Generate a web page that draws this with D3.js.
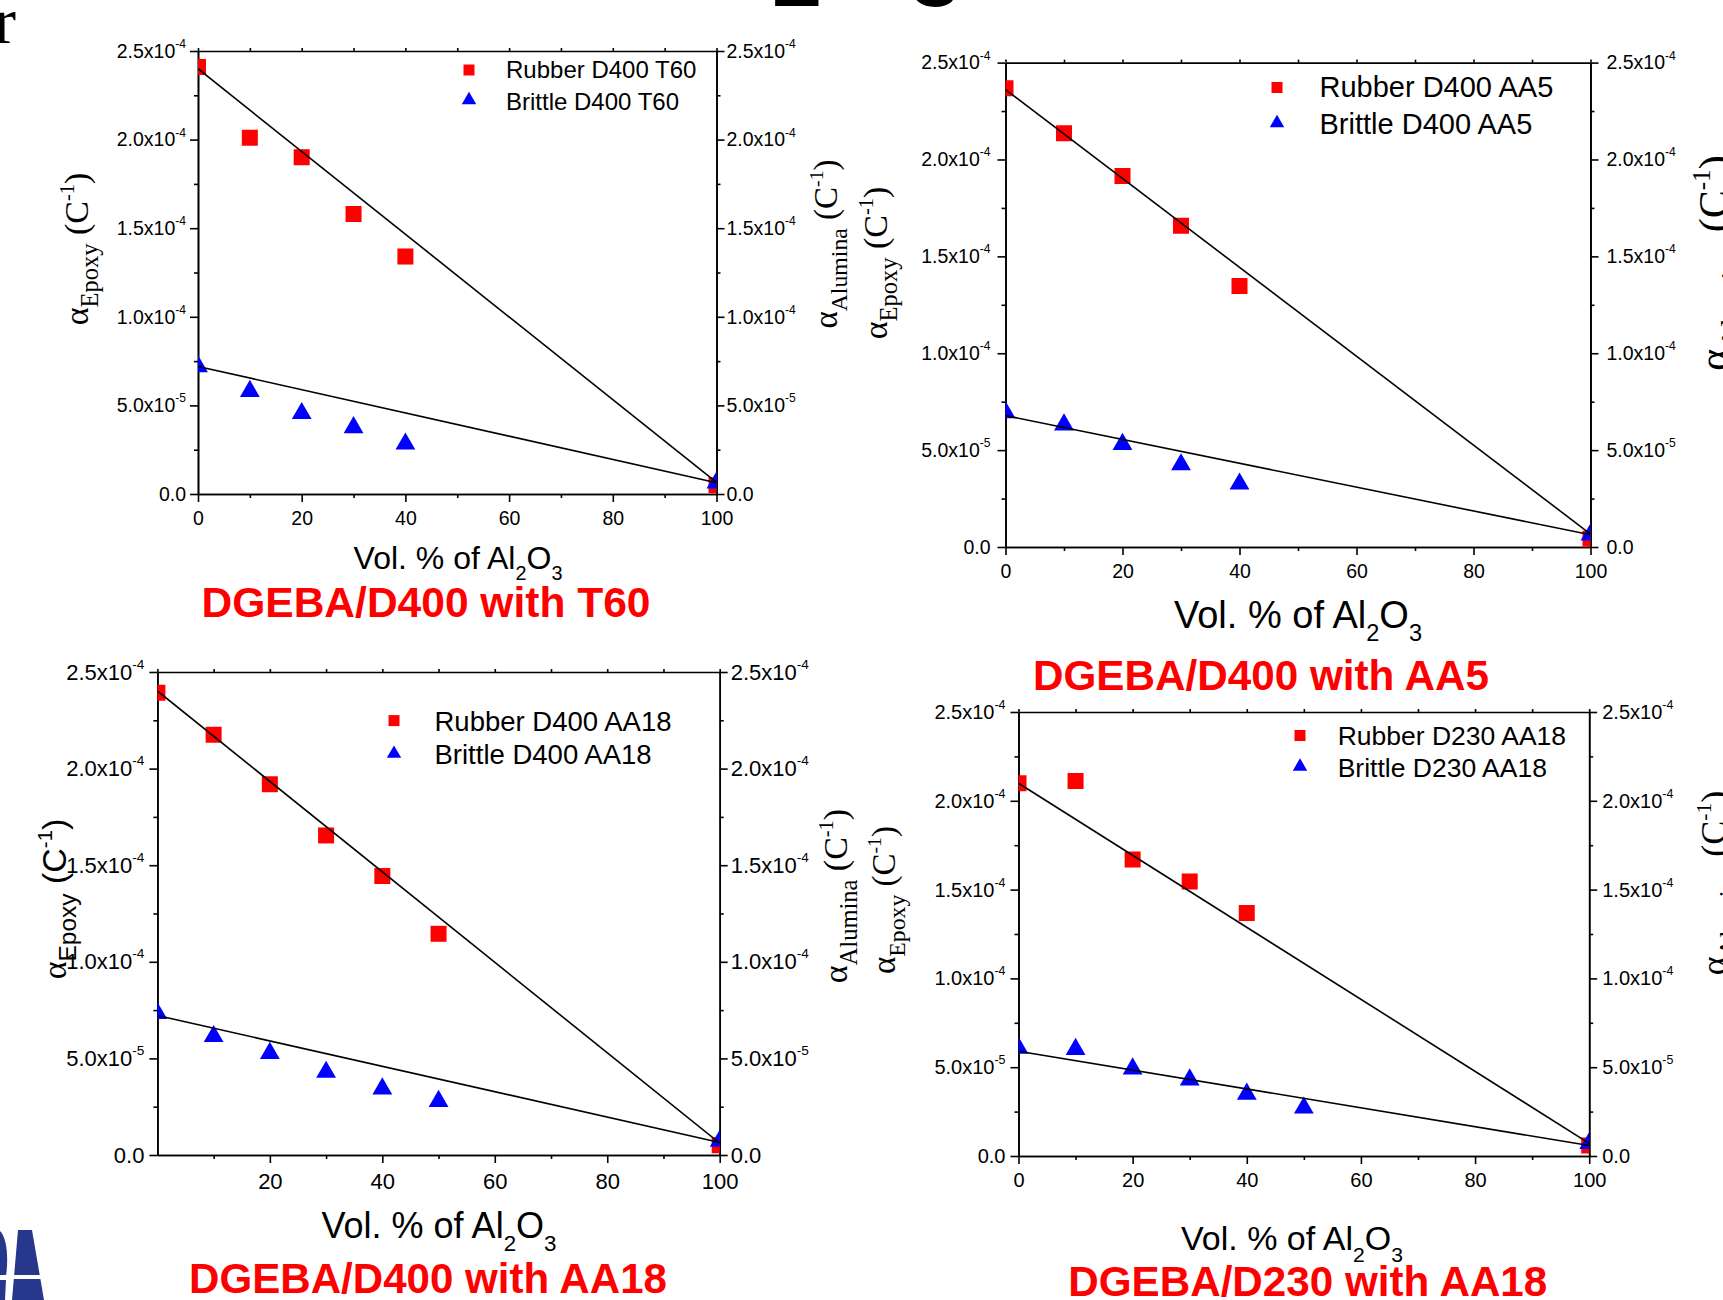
<!DOCTYPE html>
<html>
<head>
<meta charset="utf-8">
<script src="https://cdn.jsdelivr.net/npm/d3@7"></script>
<style>
body { margin: 0; background: #fff; }
svg { display: block; }
</style>
</head>
<body>
<div id="chart"></div>
<script>
// ---- data (alpha in 1/C) ----
var volT60 = [0, 10, 20, 30, 40, 100];
var rubberT60 = [2.41e-4, 2.01e-4, 1.90e-4, 1.58e-4, 1.34e-4, 0.05e-4];
var brittleT60 = [0.72e-4, 0.58e-4, 0.455e-4, 0.375e-4, 0.283e-4, 0.064e-4];
var fitRubberT60 = [2.40e-4, 0.065e-4];
var fitBrittleT60 = [0.72e-4, 0.064e-4];

var volAA5 = [0, 10, 20, 30, 40, 100];
var rubberAA5 = [2.367e-4, 2.136e-4, 1.915e-4, 1.658e-4, 1.347e-4, 0.042e-4];
var brittleAA5 = [0.694e-4, 0.631e-4, 0.530e-4, 0.425e-4, 0.326e-4, 0.063e-4];
var fitRubberAA5 = [2.361e-4, 0.067e-4];
var fitBrittleAA5 = [0.678e-4, 0.063e-4];

var volD400AA18 = [0, 10, 20, 30, 40, 50, 100];
var rubberD400AA18 = [2.392e-4, 2.175e-4, 1.919e-4, 1.654e-4, 1.444e-4, 1.145e-4, 0.05e-4];
var brittleD400AA18 = [0.733e-4, 0.614e-4, 0.527e-4, 0.429e-4, 0.343e-4, 0.278e-4, 0.072e-4];
var fitRubberD400AA18 = [2.402e-4, 0.061e-4];
var fitBrittleD400AA18 = [0.722e-4, 0.065e-4];

var volRubberD230 = [0, 10, 20, 30, 40, 100];
var rubberD230AA18 = [2.099e-4, 2.111e-4, 1.670e-4, 1.545e-4, 1.368e-4, 0.059e-4];
var volBrittleD230 = [0, 10, 20, 30, 40, 50, 100];
var brittleD230AA18 = [0.608e-4, 0.601e-4, 0.491e-4, 0.429e-4, 0.349e-4, 0.271e-4, 0.071e-4];
var fitRubberD230AA18 = [2.099e-4, 0.071e-4];
var fitBrittleD230AA18 = [0.590e-4, 0.059e-4];

var fitX = [0, 100];

// ---- tick labels ----
var yTicks = [0, 5e-5, 1e-4, 1.5e-4, 2e-4, 2.5e-4];
var yTickBase = ["0.0", "5.0x10", "1.0x10", "1.5x10", "2.0x10", "2.5x10"];
var yTickExp = ["", "-5", "-4", "-4", "-4", "-4"];
var yMinorTicks = [2.5e-5, 7.5e-5, 1.25e-4, 1.75e-4, 2.25e-4];
var xTicks = [0, 20, 40, 60, 80, 100];
var xTicksNoZero = [20, 40, 60, 80, 100];
var xMinorTicks = [10, 30, 50, 70, 90];

var SANS = "'Liberation Sans', Arial, sans-serif";
var SERIF = "'Liberation Serif', 'Times New Roman', serif";

var svgWidth = 1723;
var svgHeight = 1300;

var svg = d3.select("#chart")
  .append("svg")
  .attr("width", svgWidth)
  .attr("height", svgHeight)
  .style("background", "#fff");

// panel layout (positions only)
var panels = [
  {
    rx: volT60, rubber: rubberT60, bx: volT60, brittle: brittleT60,
    fitR: fitRubberT60, fitB: fitBrittleT60,
    rName: "Rubber D400 T60", bName: "Brittle D400 T60", title: "DGEBA/D400 with T60",
    left: 198, right: 716.5, top: 51, bottom: 494, tf: 19.5, lp: 4, rp: 2, xp: 9, xTicks: xTicks,
    leg: { sx: 469, sy: 70, ty: 100, tx: 506, b1: 77.5, b2: 109.5, fs: 24 },
    xt: { x: 458, y: 569, fs: 32 },
    tt: { x: 426, y: 617, w: 449 },
    yl: [{ x: 88, cy: 249, fs: 34, sub: "Epoxy" }, { x: 837, cy: 244, fs: 33, sub: "Alumina" }]
  },
  {
    rx: volAA5, rubber: rubberAA5, bx: volAA5, brittle: brittleAA5,
    fitR: fitRubberAA5, fitB: fitBrittleAA5,
    rName: "Rubber D400 AA5", bName: "Brittle D400 AA5", title: "DGEBA/D400 with AA5",
    left: 1005.5, right: 1590.5, top: 62.6, bottom: 547, tf: 19.5, lp: 7, rp: 8, xp: 9, xTicks: xTicks,
    leg: { sx: 1277, sy: 87.5, ty: 123, tx: 1319.5, b1: 97, b2: 133.5, fs: 29 },
    xt: { x: 1298, y: 628, fs: 38 },
    tt: { x: 1261, y: 690, w: 456 },
    yl: [{ x: 887, cy: 263, fs: 34, sub: "Epoxy" }, { x: 1728, cy: 263, fs: 42, sub: "Alumina" }]
  },
  {
    rx: volD400AA18, rubber: rubberD400AA18, bx: volD400AA18, brittle: brittleD400AA18,
    fitR: fitRubberD400AA18, fitB: fitBrittleD400AA18,
    rName: "Rubber D400 AA18", bName: "Brittle D400 AA18", title: "DGEBA/D400 with AA18",
    left: 157.4, right: 719.7, top: 672, bottom: 1155, tf: 22, lp: 5, rp: 3, xp: 10, xTicks: xTicksNoZero,
    leg: { sx: 394, sy: 720.6, ty: 753.7, tx: 434.5, b1: 730.6, b2: 764, fs: 27.5 },
    xt: { x: 439, y: 1238, fs: 36 },
    tt: { x: 428, y: 1293, w: 478 },
    yl: [{ x: 66, cy: 899, fs: 34, sub: "Epoxy", sans: true }, { x: 847, cy: 896, fs: 34, sub: "Alumina" }]
  },
  {
    rx: volRubberD230, rubber: rubberD230AA18, bx: volBrittleD230, brittle: brittleD230AA18,
    fitR: fitRubberD230AA18, fitB: fitBrittleD230AA18,
    rName: "Rubber D230 AA18", bName: "Brittle D230 AA18", title: "DGEBA/D230 with AA18",
    left: 1018.5, right: 1589.2, top: 712, bottom: 1156, tf: 20, lp: 5, rp: 5, xp: 9, xTicks: xTicks,
    leg: { sx: 1300, sy: 735.5, ty: 766.5, tx: 1337.7, b1: 744.7, b2: 777, fs: 26.5 },
    xt: { x: 1292, y: 1250, fs: 34 },
    tt: { x: 1307.8, y: 1296, w: 479 },
    yl: [{ x: 895, cy: 900, fs: 33, sub: "Epoxy" }, { x: 1726, cy: 883, fs: 36, sub: "Alumina" }]
  }
];

// restyle an axis group the way Origin draws it
function styleAxis(g, fs) {
  g.selectAll("path, line").attr("stroke", "#000").attr("stroke-width", 1.6);
  g.selectAll("text").attr("fill", "#000").attr("font-family", SANS).attr("font-size", fs);
}

// replace y tick text with mantissa + superscript exponent
function powerLabels(g, fs) {
  g.selectAll(".tick text").each(function(d) {
    var i = yTicks.indexOf(d);
    var t = d3.select(this).text(null);
    t.append("tspan").text(yTickBase[i]);
    if (yTickExp[i]) {
      t.append("tspan").attr("dy", -fs * 0.5).attr("font-size", fs * 0.62).text(yTickExp[i]);
    }
  });
}

function yTitle(l) {
  var fam = l.sans ? SANS : SERIF;
  var t = svg.append("text")
    .attr("transform", "translate(" + l.x + "," + l.cy + ") rotate(-90)")
    .attr("text-anchor", "middle")
    .attr("font-family", SERIF)
    .attr("font-size", l.fs)
    .attr("fill", "#000");
  t.append("tspan").text("\u03b1");
  t.append("tspan").attr("font-family", fam).attr("font-size", l.fs * 0.72).attr("dy", l.fs * 0.3).text(l.sub);
  t.append("tspan").attr("font-family", fam).attr("dy", -l.fs * 0.3).text("\u00a0(C");
  t.append("tspan").attr("font-family", fam).attr("font-size", l.fs * 0.6).attr("dy", -l.fs * 0.42).text("-1");
  t.append("tspan").attr("font-family", fam).attr("dy", l.fs * 0.42).text(")");
}

panels.forEach(function(p, i) {
  var x = d3.scaleLinear().domain([0, 100]).range([p.left, p.right]);
  var y = d3.scaleLinear().domain([0, 2.5e-4]).range([p.bottom, p.top]);

  svg.append("clipPath").attr("id", "clip" + i)
    .append("rect")
    .attr("x", p.left).attr("y", p.top)
    .attr("width", p.right - p.left).attr("height", p.bottom - p.top);

  var g = svg.append("g");

  // bottom axis: minor + major
  g.append("g").attr("transform", "translate(0," + p.bottom + ")")
    .call(d3.axisBottom(x).tickValues(xMinorTicks).tickSize(4).tickSizeOuter(0).tickFormat(""))
    .call(styleAxis, p.tf);
  g.append("g").attr("transform", "translate(0," + p.bottom + ")")
    .call(d3.axisBottom(x).tickValues(p.xTicks).tickSize(8).tickPadding(p.xp).tickSizeOuter(0))
    .call(styleAxis, p.tf);

  // top axis: small ticks only
  g.append("g").attr("transform", "translate(0," + p.top + ")")
    .call(d3.axisTop(x).tickValues(xMinorTicks.concat(xTicks)).tickSize(3).tickSizeOuter(0).tickFormat(""))
    .call(styleAxis, p.tf);

  // left axis
  g.append("g").attr("transform", "translate(" + p.left + ",0)")
    .call(d3.axisLeft(y).tickValues(yMinorTicks).tickSize(4).tickSizeOuter(0).tickFormat(""))
    .call(styleAxis, p.tf);
  g.append("g").attr("transform", "translate(" + p.left + ",0)")
    .call(d3.axisLeft(y).tickValues(yTicks).tickSize(8).tickPadding(p.lp).tickSizeOuter(0))
    .call(styleAxis, p.tf)
    .call(powerLabels, p.tf);

  // right axis
  g.append("g").attr("transform", "translate(" + p.right + ",0)")
    .call(d3.axisRight(y).tickValues(yMinorTicks).tickSize(4).tickSizeOuter(0).tickFormat(""))
    .call(styleAxis, p.tf);
  g.append("g").attr("transform", "translate(" + p.right + ",0)")
    .call(d3.axisRight(y).tickValues(yTicks).tickSize(8).tickPadding(p.rp).tickSizeOuter(0))
    .call(styleAxis, p.tf)
    .call(powerLabels, p.tf);

  var plot = g.append("g").attr("clip-path", "url(#clip" + i + ")");

  // data points
  plot.selectAll(".sq")
    .data(d3.zip(p.rx, p.rubber))
    .enter()
    .append("path")
    .attr("class", "sq")
    .attr("transform", function(d) { return "translate(" + x(d[0]) + "," + y(d[1]) + ")"; })
    .attr("d", d3.symbol().type(d3.symbolSquare).size(256))
    .attr("fill", "#ff0000");

  plot.selectAll(".tri")
    .data(d3.zip(p.bx, p.brittle))
    .enter()
    .append("path")
    .attr("class", "tri")
    .attr("transform", function(d) { return "translate(" + x(d[0]) + "," + y(d[1]) + ")"; })
    .attr("d", d3.symbol().type(d3.symbolTriangle).size(170))
    .attr("fill", "#0000ff");

  // linear fits
  var line = d3.line()
    .x(function(d) { return x(d[0]); })
    .y(function(d) { return y(d[1]); });
  [p.fitR, p.fitB].forEach(function(f) {
    plot.append("path")
      .datum(d3.zip(fitX, f))
      .attr("d", line)
      .attr("fill", "none")
      .attr("stroke", "#000")
      .attr("stroke-width", 1.6);
  });

  // legend
  var L = p.leg;
  g.append("path")
    .attr("transform", "translate(" + L.sx + "," + L.sy + ")")
    .attr("d", d3.symbol().type(d3.symbolSquare).size(121))
    .attr("fill", "#ff0000");
  g.append("path")
    .attr("transform", "translate(" + L.sx + "," + L.ty + ")")
    .attr("d", d3.symbol().type(d3.symbolTriangle).size(90))
    .attr("fill", "#0000ff");
  g.append("text").attr("x", L.tx).attr("y", L.b1)
    .attr("font-family", SANS).attr("font-size", L.fs).text(p.rName);
  g.append("text").attr("x", L.tx).attr("y", L.b2)
    .attr("font-family", SANS).attr("font-size", L.fs).text(p.bName);

  // x axis title
  var xt = g.append("text")
    .attr("x", p.xt.x).attr("y", p.xt.y)
    .attr("text-anchor", "middle")
    .attr("font-family", SANS)
    .attr("font-size", p.xt.fs);
  xt.append("tspan").text("Vol. % of Al");
  xt.append("tspan").attr("dy", p.xt.fs * 0.35).attr("font-size", p.xt.fs * 0.62).text("2");
  xt.append("tspan").attr("dy", -p.xt.fs * 0.35).text("O");
  xt.append("tspan").attr("dy", p.xt.fs * 0.35).attr("font-size", p.xt.fs * 0.62).text("3");

  // red panel caption
  g.append("text")
    .attr("x", p.tt.x).attr("y", p.tt.y)
    .attr("text-anchor", "middle")
    .attr("font-family", SANS)
    .attr("font-weight", "bold")
    .attr("font-size", 42)
    .attr("fill", "#ff0000")
    .attr("textLength", p.tt.w)
    .attr("lengthAdjust", "spacingAndGlyphs")
    .text(p.title);

  p.yl.forEach(yTitle);
});

// cut-off slide text around the edges
svg.append("text").attr("x", 16).attr("y", 43).attr("text-anchor", "end")
  .attr("font-family", SERIF).attr("font-size", 66).text("r");
svg.append("text").attr("x", 797).attr("y", 6).attr("text-anchor", "middle")
  .attr("font-family", SANS).attr("font-weight", "bold").attr("font-size", 90).text("2");
svg.append("text").attr("x", 935).attr("y", 6).attr("text-anchor", "middle")
  .attr("font-family", SANS).attr("font-weight", "bold").attr("font-size", 90).text("3");

// corner logo fragment
var logo = svg.append("g").attr("fill", "#27378c");
logo.append("path").attr("d", "M0,1231 C6,1236 9,1256 6,1276 L0,1276 Z");
logo.append("path").attr("d", "M0,1280 L6,1280 L5,1300 L0,1300 Z");
logo.append("path").attr("d", "M18,1230 L32,1230 L44,1300 L12,1300 Z");
svg.append("rect").attr("x", 0).attr("y", 1275).attr("width", 50).attr("height", 4).attr("fill", "#fff");
</script>
</body>
</html>
